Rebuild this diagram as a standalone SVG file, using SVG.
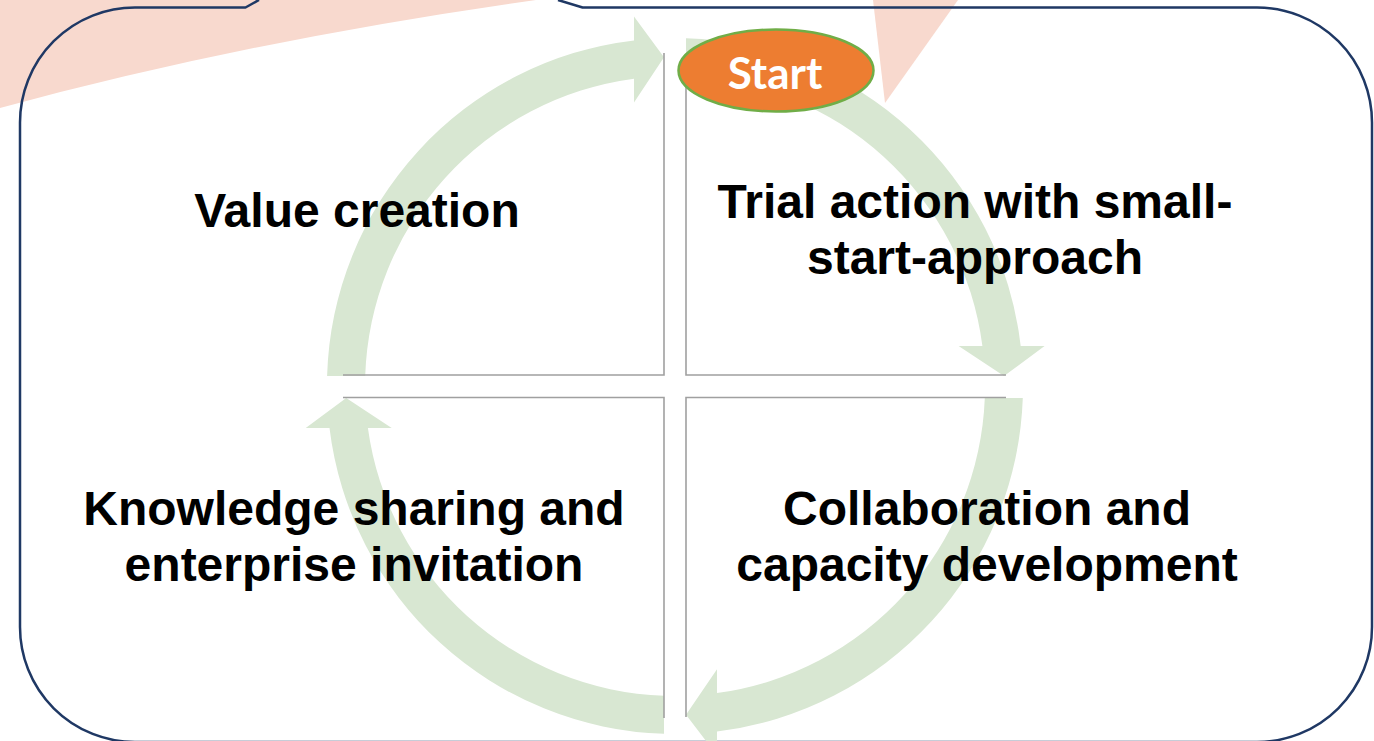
<svg xmlns="http://www.w3.org/2000/svg" width="1374" height="741" viewBox="0 0 1374 741">
  <style>
    .bg { fill: #f8d9ce; }
    .frame { fill: none; stroke: #1f3864; stroke-width: 2.5; stroke-linejoin: round; }
    .arrow { fill: #d8e7d2; stroke: none; }
    .edge { fill: none; stroke: #a0a0a0; stroke-width: 1.6; }
    .label { font-family: "Liberation Sans", Arial, sans-serif; font-weight: bold; font-size: 48px; fill: #000; text-anchor: middle; }
    .start-shape { fill: #ed7d31; stroke: #70ad47; stroke-width: 2.5; }
    .start-text { font-family: Lato, "Open Sans", sans-serif; font-weight: bold; font-size: 44px; fill: #fff; text-anchor: middle; }
  </style>
  <rect width="1374" height="741" fill="#ffffff"/>
  <!-- background pink shapes -->
  <path class="bg" d="M0,0 H536 Q250,40 0,108 Z"/>
  <path class="bg" d="M873,0 H958 L885,103 Z"/>
  <!-- outer callout frame -->
  <path class="frame" d="M259,0 L245.5,7.5 H135 A115,115 0 0 0 20,122.5 V627 A115,115 0 0 0 135,742 H1257 A115,115 0 0 0 1372,627 V122.5 A115,115 0 0 0 1257,7.5 H582.6 L558,0"/>
  <!-- cycle arrows -->
  <g id="connectors">
    <path id="arrow-trial-to-collab" class="arrow" d="M686,38.2 A348,348 0 0 1 1020.7,346 L1044.6,346 L1004,376 L958.6,346 L982.4,346 A310,310 0 0 0 686,76.2 Z"/>
    <path id="arrow-collab-to-knowledge" class="arrow" d="M1022.8,398 A348,348 0 0 1 717,731.5 L717,755.3 L686,714.8 L717,669.3 L717,693.1 A310,310 0 0 0 984.8,398 Z"/>
    <path id="arrow-knowledge-to-value" class="arrow" d="M664,733.8 A348,348 0 0 1 329.5,428 L305.7,428 L346.2,398 L391.7,428 L367.9,428 A310,310 0 0 0 664,695.8 Z"/>
    <path id="arrow-value-to-trial" class="arrow" d="M327.1,376 A348,348 0 0 1 634,40.4 L634,16.6 L664,57.2 L634,102.6 L634,78.7 A310,310 0 0 0 365.2,376 Z"/>
  </g>
  <!-- quadrants -->
  <g id="value-creation">
    <path class="edge" d="M343,375 H664 V53"/>
    <text class="label" x="357" y="227">Value creation</text>
  </g>
  <g id="trial-action">
    <path class="edge" d="M686,70 V375 H1006"/>
    <text class="label" x="975" y="218">Trial action with small-</text>
    <text class="label" x="975" y="274">start-approach</text>
  </g>
  <g id="knowledge-sharing">
    <path class="edge" d="M343,397.5 H664 V718"/>
    <text class="label" x="354" y="525">Knowledge sharing and</text>
    <text class="label" x="354" y="581">enterprise invitation</text>
  </g>
  <g id="collaboration">
    <path class="edge" d="M1006,397.5 H686 V717"/>
    <text class="label" x="987" y="525">Collaboration and</text>
    <text class="label" x="987" y="581">capacity development</text>
  </g>
  <g id="start">
    <ellipse class="start-shape" cx="776" cy="70.5" rx="97.5" ry="41"/>
    <text class="start-text" x="775" y="89">Start</text>
  </g>
</svg>
